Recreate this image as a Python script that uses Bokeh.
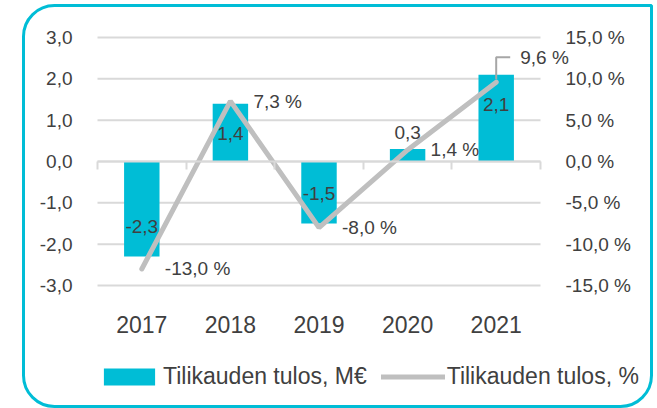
from bokeh.plotting import figure
from bokeh.models import (Range1d, LinearAxis, FixedTicker, ColumnDataSource, Legend,
                          LegendItem, BoxAnnotation)
from bokeh.core.properties import value
from bokeh.embed import file_html
from bokeh.resources import INLINE

# ---- data ----
years = ["2017", "2018", "2019", "2020", "2021"]
result_meur = [-2.3, 1.4, -1.5, 0.3, 2.1]
result_pct = [-13.0, 7.3, -8.0, 1.4, 9.6]
bar_labels = ["-2,3", "1,4", "-1,5", "0,3", "2,1"]
pct_labels = ["-13,0 %", "7,3 %", "-8,0 %", "1,4 %", "9,6 %"]
left_ticks = [-3, -2, -1, 0, 1, 2, 3]
left_tick_labels = ["-3,0", "-2,0", "-1,0", "0,0", "1,0", "2,0", "3,0"]
right_ticks = [-15, -10, -5, 0, 5, 10, 15]
right_tick_labels = ["-15,0 %", "-10,0 %", "-5,0 %", "0,0 %", "5,0 %", "10,0 %", "15,0 %"]
legend_labels = ["Tilikauden tulos, M€", "Tilikauden tulos, %"]

# ---- style / layout ----
CYAN = "#00BDD6"
GREY_LINE = "#BFBFBF"
GRID = "#D9D9D9"
TEXT = "#404040"
FONT = "Liberation Sans"

W, H = 657, 408                     # canvas
PL, PT, PW, PH = 97, 37, 443, 248   # plot area inside the canvas (px)

n = len(years)
ymin, ymax = left_ticks[0], left_ticks[-1]
pmin, pmax = right_ticks[0], right_ticks[-1]
pxu = PW / n                      # px per category
pyu = PH / (ymax - ymin)          # px per M€
ppu = PH / (pmax - pmin)          # px per %

xc = [i + 0.5 for i in range(n)]  # category centres

x_rng = Range1d(-PL / pxu, (W - PL) / pxu)
y_rng = Range1d(ymin - (H - PT - PH) / pyu, ymax + PT / pyu)
p_rng = Range1d(pmin - (H - PT - PH) / ppu, pmax + PT / ppu)

p = figure(width=W, height=H, x_range=x_rng, y_range=y_rng,
           output_backend="svg", toolbar_location=None,
           min_border=0, min_border_left=0, min_border_right=0,
           min_border_top=0, min_border_bottom=0)
p.extra_y_ranges = {"pct": p_rng}
p.outline_line_color = None
p.background_fill_color = "white"
p.border_fill_color = "white"
p.xgrid.visible = False
p.ygrid.visible = False

# rounded box around whole chart
border = BoxAnnotation(left=23, right=651, top=5, bottom=406,
                       left_units="canvas", right_units="canvas",
                       top_units="canvas", bottom_units="canvas",
                       fill_color=None, fill_alpha=0, line_color=CYAN, line_alpha=1.0,
                       line_width=3,
                       border_radius=dict(top_left=31, top_right=0, bottom_right=31, bottom_left=31),
                       level="underlay")
p.add_layout(border)

# horizontal grid lines over the plot area only
p.segment(x0=[0] * len(left_ticks), x1=[n] * len(left_ticks), y0=left_ticks, y1=left_ticks,
          line_color=GRID, line_width=2, level="underlay")

# left axis
la = p.yaxis[0]
la.fixed_location = 0
la.ticker = FixedTicker(ticks=left_ticks)
la.major_label_overrides = dict(zip(left_ticks, left_tick_labels))
la.axis_line_color = None
la.major_tick_line_color = None
la.minor_tick_line_color = None
la.major_tick_out = 0
la.major_tick_in = 0
la.major_label_standoff = 25
la.major_label_text_font = FONT
la.major_label_text_font_size = "19px"
la.major_label_text_color = TEXT

# right axis
ra = LinearAxis(y_range_name="pct", ticker=FixedTicker(ticks=right_ticks), fixed_location=n,
                major_label_overrides=dict(zip(right_ticks, right_tick_labels)),
                axis_line_color=None, major_tick_line_color=None, minor_tick_line_color=None,
                major_tick_out=0, major_tick_in=0,
                major_label_standoff=25, major_label_text_font=FONT,
                major_label_text_font_size="19px", major_label_text_color=TEXT)
p.add_layout(ra, "right")

# bottom category labels
xa = p.xaxis[0]
xa.fixed_location = ymin
xa.ticker = FixedTicker(ticks=xc)
xa.major_label_overrides = dict(zip(xc, years))
xa.axis_line_color = None
xa.major_tick_line_color = None
xa.minor_tick_line_color = None
xa.major_tick_out = 0
xa.major_tick_in = 0
xa.major_label_standoff = 30
xa.major_label_text_font = FONT
xa.major_label_text_font_size = "23px"
xa.major_label_text_color = TEXT

# zero axis line with ticks at category boundaries
za = LinearAxis(ticker=FixedTicker(ticks=list(range(n + 1))), bounds=(0, n),
                fixed_location=0, axis_line_color=GRID, axis_line_width=2,
                major_tick_line_color=GRID, major_tick_line_width=2,
                major_tick_out=8, major_tick_in=0, minor_tick_line_color=None,
                major_label_text_color=None, major_label_text_font_size="1px")
p.add_layout(za, "below")

# data
bar_off = [(-30 if v < 0 else 30) if abs(v) >= 1 else -17 for v in result_meur]
src = ColumnDataSource(dict(x=xc, val=result_meur, pct=result_pct,
                            blab=bar_labels, boff=bar_off))

bars = p.vbar(x="x", top="val", width=0.4, source=src, fill_color=CYAN, line_color=None)
line = p.line(x="x", y="pct", source=src, y_range_name="pct",
              line_color=GREY_LINE, line_width=5, line_cap="round")

p.text(x="x", y="val", text="blab", y_offset="boff", source=src,
       text_align="center", text_baseline="middle", text_font=value(FONT),
       text_font_size="19px", text_color=TEXT)

# percent labels: right of point; last one raised with a leader line
last = n - 1
plx = [23] * n
ply = [0] * n
ply[last] = -25
plx[last] = 24
src2 = ColumnDataSource(dict(x=xc, pct=result_pct, plab=pct_labels, xo=plx, yo=ply))
p.text(x="x", y="pct", text="plab", x_offset="xo", y_offset="yo", source=src2,
       y_range_name="pct", text_align="left", text_baseline="middle",
       text_font=value(FONT), text_font_size="19px", text_color=TEXT)

lead_x = [xc[last], xc[last], xc[last] + 14 / pxu]
lead_y = [result_pct[last] + 3 / ppu, result_pct[last] + 25 / ppu,
          result_pct[last] + 25 / ppu]
p.line(x=lead_x, y=lead_y, y_range_name="pct", line_color="#A6A6A6", line_width=2)

legend = Legend(items=[LegendItem(label=legend_labels[0], renderers=[bars]),
                       LegendItem(label=legend_labels[1], renderers=[line])],
                orientation="horizontal", location=(PL, 18),
                glyph_width=64, glyph_height=21, label_standoff=2, spacing=14,
                padding=0, margin=0, border_line_color=None, background_fill_alpha=0,
                label_text_font=FONT, label_text_font_size="23px", label_text_color=TEXT)
p.add_layout(legend, "center")

open("out.html", "w").write(file_html(p, INLINE))
